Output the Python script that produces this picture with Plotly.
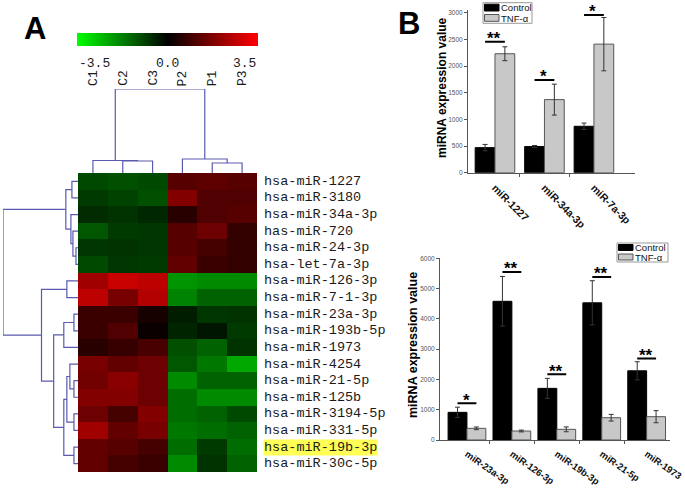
import plotly.graph_objects as go

W, H = 685, 494
def px(p): return p / W
def py(p): return 1 - p / H

# ---------------- Heatmap data ----------------
hm_rows = ["hsa-miR-1227", "hsa-miR-3180", "hsa-miR-34a-3p", "has-miR-720",
           "hsa-miR-24-3p", "hsa-let-7a-3p", "hsa-miR-126-3p", "hsa-miR-7-1-3p",
           "hsa-miR-23a-3p", "hsa-miR-193b-5p", "hsa-miR-1973", "hsa-miR-4254",
           "hsa-miR-21-5p", "hsa-miR-125b", "hsa-miR-3194-5p", "hsa-miR-331-5p",
           "hsa-miR-19b-3p", "hsa-miR-30c-5p"]
hm_cols = ["C1", "C2", "C3", "P2", "P1", "P3"]
hm_values = [
    [-1.0, -1.1, -1.0, 1.2, 1.3, 1.2],
    [-0.8, -0.9, -1.1, 1.8, 1.1, 1.1],
    [-0.6, -0.7, -0.55, 0.55, 1.1, 1.2],
    [-1.2, -0.8, -0.75, 1.2, 1.5, 0.7],
    [-0.75, -0.7, -0.75, 1.2, 0.95, 0.7],
    [-1.0, -0.75, -0.8, 1.35, 0.8, 0.7],
    [2.2, 2.75, 2.6, -2.05, -1.9, -1.9],
    [2.6, 1.65, 2.45, -1.8, -1.35, -1.35],
    [0.8, 0.8, 0.3, -0.4, -0.75, -0.7],
    [0.8, 1.1, 0.15, -0.5, -0.3, -0.8],
    [0.55, 0.75, 1.0, -1.1, -1.35, -0.7],
    [1.65, 1.35, 1.5, -1.2, -1.65, -2.3],
    [1.55, 1.9, 1.5, -1.9, -1.35, -1.35],
    [1.8, 1.8, 1.5, -1.5, -1.9, -1.9],
    [1.5, 0.95, 1.8, -1.5, -1.35, -1.0],
    [2.2, 1.35, 1.65, -1.65, -1.5, -1.35],
    [1.35, 1.2, 0.95, -1.5, -0.8, -1.5],
    [1.35, 0.95, 0.8, -1.9, -0.7, -1.35],
]
highlight_row = "hsa-miR-19b-3p"
cb_ticks = [-3.5, 0.0, 3.5]

# linkage: (child_a, child_b, height); new node ids follow leaves in order
row_links = [(4, 5, 0.2), (3, 18, 0.5), (2, 19, 0.7), (0, 1, 0.6), (21, 20, 1.2),
             (6, 7, 1.1), (8, 9, 0.4), (24, 10, 1.4), (12, 13, 0.4), (11, 26, 0.8),
             (14, 15, 0.4), (27, 28, 1.1), (16, 17, 0.4), (29, 30, 1.4),
             (25, 31, 2.4), (23, 32, 3.6), (22, 33, 7.4)]
col_links = [(1, 2, 1.2), (0, 6, 1.25), (4, 5, 1.0), (3, 8, 1.4), (7, 9, 8.4)]

# ---------------- Bar data ----------------
series_names = ["Control", "TNF-α"]
y_title = "miRNA expression value"
top_cats = ["miR-1227", "miR-34a-3p", "miR-7a-3p"]
top_ctrl = [470, 490, 870]
top_ctrl_err = [60, 20, 60]
top_tnf = [2230, 1370, 2410]
top_tnf_err = [130, 290, 500]
top_sig = ["**", "*", "*"]
top_sig_y = [2456, 1738, 2957]

bot_cats = ["miR-23a-3p", "miR-126-3p", "miR-19b-3p", "miR-21-5p", "miR-1973"]
bot_ctrl = [913, 4580, 1705, 4530, 2285]
bot_ctrl_err = [170, 820, 330, 730, 300]
bot_tnf = [385, 297, 352, 736, 770]
bot_tnf_err = [45, 30, 80, 110, 200]
bot_sig = ["*", "**", "**", "**", "**"]
bot_sig_y = [1210, 5550, 2175, 5385, 2693]

# ---------------- styles ----------------
MONO = "Liberation Mono"
SANS = "Liberation Sans"
DENDRO = "#5a5ab0"
BAR_FILL = ["#000000", "#c8c8c8"]
BAR_LINE = ["#000000", "#555555"]
AX = "#555555"

fig = go.Figure()

fig.add_trace(go.Heatmap(
    z=hm_values, x=list(range(len(hm_cols))), y=list(range(len(hm_rows))),
    colorscale=[[0, "#00ff00"], [0.5, "#000000"], [1, "#ff0000"]],
    zmin=cb_ticks[0], zmax=cb_ticks[-1], xaxis="x", yaxis="y",
    hoverinfo="skip",
    colorbar=dict(orientation="h", x=px(167.5), xanchor="center", y=py(33), yanchor="top",
                  len=181, lenmode="pixels", thickness=13, thicknessmode="pixels",
                  xpad=0, ypad=0, outlinewidth=0, showticklabels=False, ticks=""),
))

def dendro(links, n):
    pos = {i: float(i) for i in range(n)}
    hgt = {i: 0.0 for i in range(n)}
    P, Hh = [], []
    for k, (a, b, h) in enumerate(links):
        node = n + k
        P += [pos[a], pos[a], pos[b], pos[b], None]
        Hh += [hgt[a], h, h, hgt[b], None]
        pos[node] = (pos[a] + pos[b]) / 2
        hgt[node] = h
    return P, Hh

cp, ch = dendro(col_links, len(hm_cols))
fig.add_trace(go.Scatter(x=cp, y=ch, mode="lines", xaxis="x", yaxis="y2",
                         line=dict(color=DENDRO, width=1.2), hoverinfo="skip", showlegend=False))
rp, rh = dendro(row_links, len(hm_rows))
fig.add_trace(go.Scatter(x=rh, y=rp, mode="lines", xaxis="x2", yaxis="y",
                         line=dict(color=DENDRO, width=1.2), hoverinfo="skip", showlegend=False))

# bars
def add_bars(cats, ctrl, ctrl_e, tnf, tnf_e, xa, ya, w):
    xs = list(range(len(cats)))
    for vals, errs, k, off in [(ctrl, ctrl_e, 0, -w), (tnf, tnf_e, 1, 0)]:
        fig.add_trace(go.Bar(
            x=xs, y=vals, width=w, offset=off, xaxis=xa, yaxis=ya,
            marker=dict(color=BAR_FILL[k], line=dict(color=BAR_LINE[k], width=1)),
            error_y=dict(type="data", array=errs, color="#333333", thickness=1, width=2.5),
            name=series_names[k], showlegend=False, hoverinfo="skip"))

def add_sig(cats, sig, sig_y, xa, ya, w):
    for i, (s, yv) in enumerate(zip(sig, sig_y)):
        fig.add_trace(go.Scatter(x=[i - w / 2, i + w / 2], y=[yv, yv], mode="lines",
                                 xaxis=xa, yaxis=ya, line=dict(color="black", width=2),
                                 cliponaxis=False, hoverinfo="skip", showlegend=False))
        fig.add_annotation(x=i - 0.02, y=yv, xref=xa, yref=ya, text=s, showarrow=False,
                           yanchor="middle", yshift=3,
                           font=dict(family=SANS, size=17, color="black", weight="bold"))

add_bars(top_cats, top_ctrl, top_ctrl_err, top_tnf, top_tnf_err, "x3", "y3", 0.4)
add_sig(top_cats, top_sig, top_sig_y, "x3", "y3", 0.4)
add_bars(bot_cats, bot_ctrl, bot_ctrl_err, bot_tnf, bot_tnf_err, "x4", "y4", 0.42)
add_sig(bot_cats, bot_sig, bot_sig_y, "x4", "y4", 0.42)

hidden = dict(visible=False, showgrid=False, zeroline=False)
tickfont_y = dict(family=SANS, size=6.5, color="#555555")

def yax(domain, rng, dtick, anchor):
    return dict(domain=domain, range=rng, anchor=anchor, dtick=dtick, showline=True,
                linecolor=AX, linewidth=1, ticks="outside", ticklen=3, tickcolor=AX,
                tickfont=tickfont_y, showgrid=False, zeroline=False)

def xax(domain, rng, cats, anchor, angle, fs):
    return dict(domain=domain, range=rng, anchor=anchor, showline=True, linecolor=AX,
                linewidth=1, tickmode="array", tickvals=list(range(len(cats))),
                ticktext=cats, ticks="", tickangle=angle,
                tickfont=dict(family=SANS, size=fs, color="#111111", weight="bold"),
                ticklabelstandoff=4, ticklabeloverflow="allow",
                showgrid=False, zeroline=False,
                minor=dict(tickmode="array", tickvals=[i + 0.5 for i in range(len(cats) - 1)],
                           ticks="outside", ticklen=3, tickcolor=AX))

fig.update_layout(
    width=W, height=H, margin=dict(l=0, r=0, t=0, b=0, autoexpand=False),
    paper_bgcolor="white", plot_bgcolor="rgba(0,0,0,0)", showlegend=False,
    xaxis=dict(domain=[px(78), px(257)], range=[-0.5, len(hm_cols) - 0.5], anchor="y", **hidden),
    yaxis=dict(domain=[py(472), py(173)], range=[len(hm_rows) - 0.5, -0.5], anchor="x", **hidden),
    yaxis2=dict(domain=[py(173), py(89)], range=[0, col_links[-1][2]], anchor="x", **hidden),
    xaxis2=dict(domain=[px(3), px(78)], range=[row_links[-1][2], 0], anchor="y", **hidden),
    xaxis3=xax([px(468), px(635)], [-0.545, 2.83], top_cats, "y3", 45, 10.5),
    yaxis3=yax([py(172.7), py(10)], [0, 3050], 500, "x3"),
    xaxis4=xax([px(440), px(670)], [-0.6, 4.52], bot_cats, "y4", 35, 9.5),
    yaxis4=yax([py(440), py(258.3)], [0, 6000], 1000, "x4"),
)

# y-axis titles
for (tx, ty, fs) in [(442, 88, 12), (413, 345, 12.5)]:
    fig.add_annotation(x=px(tx), y=py(ty), xref="paper", yref="paper", text=y_title,
                       showarrow=False, textangle=-90, xanchor="center", yanchor="middle",
                       font=dict(family=SANS, size=fs, color="black", weight="bold"))

# heatmap labels
for i, name in enumerate(hm_rows):
    fig.add_annotation(x=px(263), y=i, xref="paper", yref="y", text=name, showarrow=False,
                       xanchor="left", yanchor="middle", borderpad=0,
                       bgcolor="#ffff55" if name == highlight_row else None,
                       font=dict(family=MONO, size=13.5, color="#1a1a1a"))
for j, name in enumerate(hm_cols):
    fig.add_annotation(x=j, y=py(78), xref="x", yref="paper", text=name, showarrow=False,
                       textangle=-90, xanchor="center", yanchor="middle",
                       font=dict(family=MONO, size=13, color="#1a1a1a"))
cb_anchor = ["left", "center", "right"]
cb_x = [77, 167.5, 258]
for t, a, xx in zip(cb_ticks, cb_anchor, cb_x):
    fig.add_annotation(x=px(xx), y=py(63), xref="paper", yref="paper", text=f"{t:.1f}",
                       showarrow=False, xanchor=a, yanchor="middle",
                       font=dict(family=MONO, size=13, color="#1a1a1a"))

# panel letters
for letter, (lx, ly) in {"A": (35, 29), "B": (409, 23)}.items():
    fig.add_annotation(x=px(lx), y=py(ly), xref="paper", yref="paper", text=letter,
                       showarrow=False, xanchor="center", yanchor="middle",
                       font=dict(family=SANS, size=31, color="black", weight="bold"))

# legends (drawn boxes)
def legend(x0, y0, x1, y1, fs):
    fig.add_shape(type="rect", xref="paper", yref="paper", x0=px(x0), x1=px(x1),
                  y0=py(y0), y1=py(y1), line=dict(color="#999999", width=1), fillcolor="white")
    rowh = (y1 - y0) / 2
    for k, nm in enumerate(series_names):
        sy0 = y0 + k * rowh + 1.5
        sy1 = y0 + (k + 1) * rowh - 2
        fig.add_shape(type="rect", xref="paper", yref="paper", x0=px(x0 + 1.5), x1=px(x0 + 16),
                      y0=py(sy0), y1=py(sy1), fillcolor=BAR_FILL[k],
                      line=dict(color=BAR_LINE[k], width=1))
        fig.add_annotation(x=px(x0 + 16.5), y=py(y0 + (k + 0.5) * rowh), xref="paper",
                           yref="paper", text=nm, showarrow=False, xanchor="left",
                           yanchor="middle", borderpad=0,
                           font=dict(family=SANS, size=fs, color="#111111"))

legend(483, 2.7, 532, 23.3, 9.5)
legend(617, 243, 668, 262, 9.5)

fig.write_html("out.html", config={"displayModeBar": False},
               post_script="document.body.style.margin='0';document.body.style.overflow='hidden';")
